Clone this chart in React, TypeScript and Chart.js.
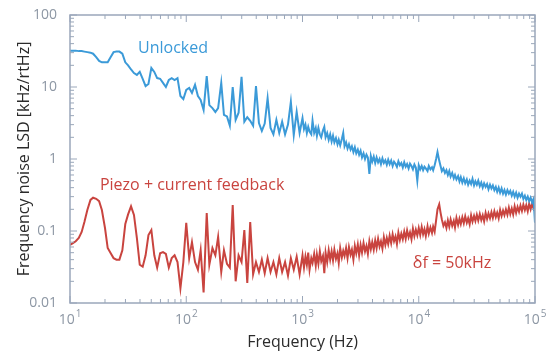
import React, { useEffect, useRef } from 'react';
import { Chart, registerables } from 'chart.js';

Chart.register(...registerables);

// Frequency grid (Hz): 40 points/decade below 1 kHz, 80 points/decade above
const freqHz = [
  10, 10.6, 11.2, 11.9, 12.6, 13.3, 14.1, 15.0, 15.8, 16.8, 17.8, 18.8, 20.0, 21.1, 22.4, 23.7, 25.1, 26.6, 28.2, 29.9,
  31.6, 33.5, 35.5, 37.6, 39.8, 42.2, 44.7, 47.3, 50.1, 53.1, 56.2, 59.6, 63.1, 66.8, 70.8, 75.0, 79.4, 84.1, 89.1, 94.4,
  100, 106, 112, 119, 126, 133, 141, 150, 158, 168, 178, 188, 200, 211, 224, 237, 251, 266, 282, 299,
  316, 335, 355, 376, 398, 422, 447, 473, 501, 531, 562, 596, 631, 668, 708, 750, 794, 841, 891, 944,
  1000, 1030, 1060, 1090, 1120, 1150, 1190, 1220, 1260, 1300, 1330, 1370, 1410, 1450, 1500, 1540, 1580, 1630, 1680, 1730,
  1780, 1830, 1880, 1940, 2000, 2050, 2110, 2180, 2240, 2300, 2370, 2440, 2510, 2590, 2660, 2740, 2820, 2900, 2990, 3070,
  3160, 3250, 3350, 3450, 3550, 3650, 3760, 3870, 3980, 4100, 4220, 4340, 4470, 4600, 4730, 4870, 5010, 5160, 5310, 5460,
  5620, 5790, 5960, 6130, 6310, 6490, 6680, 6880, 7080, 7290, 7500, 7720, 7940, 8180, 8410, 8660, 8910, 9170, 9440, 9720,
  10000, 10300, 10600, 10900, 11200, 11500, 11900, 12200, 12600, 13000, 13300, 13700, 14100, 14500, 15000, 15400, 15800, 16300, 16800, 17300,
  17800, 18300, 18800, 19400, 20000, 20500, 21100, 21800, 22400, 23000, 23700, 24400, 25100, 25900, 26600, 27400, 28200, 29000, 29900, 30700,
  31600, 32500, 33500, 34500, 35500, 36500, 37600, 38700, 39800, 41000, 42200, 43400, 44700, 46000, 47300, 48700, 50100, 51600, 53100, 54600,
  56200, 57900, 59600, 61300, 63100, 64900, 66800, 68800, 70800, 72900, 75000, 77200, 79400, 81800, 84100, 86600, 89100, 91700, 94400, 97200,
  100000,
];

// Unlocked laser LSD (kHz/rtHz)
const unlockedLSD = [
  32, 32, 32, 31.5, 31.5, 31, 30.5, 30, 29, 26,
  23, 22, 22, 22, 26, 30.5, 31, 31, 29, 22,
  20, 17.5, 15.6, 14.7, 16.2, 13, 10.3, 11, 18.4, 16.2,
  13.3, 13, 11.4, 10, 12.5, 13.3, 12.5, 13.3, 7.5, 6.8,
  9.1, 9.7, 8.3, 10.7, 7.5, 6.6, 4.8, 14.2, 5.6, 5.1,
  4.5, 5.1, 11.4, 4.1, 3.9, 2.9, 10, 3.5, 4.4, 13.8,
  3.3, 3.8, 3.4, 2.9, 10.3, 3.16, 2.45, 3.1, 7.0, 2.7,
  2.2, 3.5, 2.3, 3.3, 2.2, 3.0, 6.2, 2.15, 4.5, 2.3,
  3.7, 2.6, 3.0, 2.3, 2.8, 2.4, 2.2, 3.4, 2.3, 2.7,
  2.1, 2.7, 2.2, 2.0, 2.5, 2.8, 2.0, 2.3, 1.85, 2.2,
  1.75, 2.1, 1.7, 1.95, 1.6, 1.85, 1.55, 1.9, 2.3, 1.5,
  1.7, 1.4, 1.6, 1.35, 1.5, 1.25, 1.45, 1.2, 1.35, 1.15,
  1.3, 1.05, 1.2, 1.0, 1.15, 1.05, 0.62, 1.1, 0.92, 1.08,
  0.88, 1.05, 0.9, 1.0, 0.85, 1.02, 0.88, 0.96, 0.83, 0.98,
  0.85, 0.95, 0.8, 0.92, 0.86, 0.78, 0.93, 0.82, 0.88, 0.76,
  0.9, 0.78, 0.85, 0.74, 0.86, 0.8, 0.72, 0.84, 0.76, 0.5,
  0.82, 0.72, 0.8, 0.7, 0.78, 0.74, 0.68, 0.8, 0.72, 0.77,
  0.7, 0.82, 1.0, 1.25, 0.95, 0.8, 0.68, 0.74, 0.64, 0.7,
  0.6, 0.68, 0.57, 0.64, 0.54, 0.6, 0.52, 0.58, 0.49, 0.56,
  0.47, 0.54, 0.46, 0.52, 0.44, 0.5, 0.45, 0.53, 0.43, 0.49,
  0.44, 0.5, 0.42, 0.47, 0.4, 0.46, 0.41, 0.45, 0.38, 0.44,
  0.39, 0.43, 0.37, 0.41, 0.35, 0.4, 0.34, 0.39, 0.33, 0.37,
  0.32, 0.37, 0.33, 0.36, 0.31, 0.35, 0.3, 0.34, 0.29, 0.33,
  0.3, 0.33, 0.28, 0.31, 0.27, 0.3, 0.26, 0.29, 0.25, 0.28,
  0.13,
];

// Piezo + current feedback LSD (kHz/rtHz)
const feedbackLSD = [
  0.064, 0.068, 0.072, 0.08, 0.097, 0.133, 0.196, 0.27, 0.29, 0.28,
  0.26, 0.196, 0.11, 0.058, 0.049, 0.042, 0.04, 0.04, 0.054, 0.125,
  0.17, 0.22, 0.167, 0.08, 0.034, 0.032, 0.046, 0.088, 0.103, 0.046,
  0.031, 0.049, 0.051, 0.048, 0.031, 0.042, 0.046, 0.037, 0.016, 0.037,
  0.13, 0.042, 0.07, 0.037, 0.029, 0.054, 0.014, 0.178, 0.034, 0.058,
  0.046, 0.083, 0.027, 0.054, 0.035, 0.031, 0.23, 0.02, 0.046, 0.037,
  0.103, 0.019, 0.133, 0.025, 0.037, 0.027, 0.04, 0.026, 0.042, 0.027,
  0.037, 0.025, 0.042, 0.027, 0.037, 0.024, 0.042, 0.029, 0.044, 0.025,
  0.046, 0.031, 0.044, 0.034, 0.05, 0.029, 0.042, 0.036, 0.048, 0.033,
  0.047, 0.035, 0.052, 0.038, 0.045, 0.026, 0.05, 0.037, 0.054, 0.04,
  0.052, 0.039, 0.055, 0.041, 0.049, 0.036, 0.058, 0.043, 0.053, 0.045,
  0.058, 0.042, 0.06, 0.047, 0.055, 0.04, 0.062, 0.049, 0.065, 0.046,
  0.064, 0.05, 0.068, 0.052, 0.062, 0.048, 0.072, 0.056, 0.07, 0.055,
  0.074, 0.058, 0.078, 0.061, 0.072, 0.057, 0.082, 0.064, 0.08, 0.066,
  0.086, 0.068, 0.09, 0.072, 0.084, 0.066, 0.095, 0.075, 0.092, 0.077,
  0.098, 0.078, 0.102, 0.082, 0.096, 0.077, 0.108, 0.085, 0.104, 0.087,
  0.11, 0.088, 0.114, 0.09, 0.106, 0.085, 0.116, 0.092, 0.112, 0.094,
  0.115, 0.098, 0.14, 0.2, 0.235, 0.18, 0.145, 0.118, 0.132, 0.11,
  0.14, 0.115, 0.145, 0.118, 0.138, 0.112, 0.152, 0.122, 0.148, 0.125,
  0.155, 0.128, 0.16, 0.13, 0.15, 0.124, 0.165, 0.135, 0.162, 0.138,
  0.168, 0.14, 0.172, 0.142, 0.165, 0.136, 0.178, 0.147, 0.175, 0.15,
  0.182, 0.152, 0.188, 0.156, 0.18, 0.15, 0.196, 0.162, 0.192, 0.166,
  0.2, 0.168, 0.21, 0.172, 0.205, 0.17, 0.22, 0.178, 0.215, 0.185,
  0.225, 0.19, 0.232, 0.195, 0.228, 0.188, 0.24, 0.2, 0.238, 0.205,
  0.225,
];

const yTickValues = [0.01, 0.1, 1, 10, 100];
const yTickLabels = ['0.01', '0.1', '1', '10', '100'];
const xTickExponents = [1, 2, 3, 4, 5];

const annotationTexts = ['Unlocked', 'Piezo + current feedback', 'δf = 50kHz'];
const annotationFreq = [38.5, 18.1, 8900];
const annotationLSD = [34.8, 0.435, 0.036];

const BLUE = '#3b9ad8';
const RED = '#c9443f';
const AXIS = '#9aa7ba';
const TICK_TEXT = '#8d97a4';
const TITLE_TEXT = '#2b2b2b';
const FONT = "'Open Sans', 'Noto Sans', sans-serif";

const annotationColors = [BLUE, RED, RED];

const framePlugin = {
  id: 'frameTicks',
  afterDraw(chart: any) {
    const { ctx, chartArea, scales } = chart;
    const { left, right, top, bottom } = chartArea;
    const x = scales.x;
    const y = scales.y;
    ctx.save();
    ctx.strokeStyle = AXIS;
    ctx.lineWidth = 1.5;
    ctx.strokeRect(left, top, right - left, bottom - top);
    ctx.lineWidth = 1;
    const seg = (x1: number, y1: number, x2: number, y2: number) => {
      ctx.beginPath();
      ctx.moveTo(x1, y1);
      ctx.lineTo(x2, y2);
      ctx.stroke();
    };
    for (let e = 1; e <= 5; e++) {
      for (let m = 1; m <= 9; m++) {
        const v = m * Math.pow(10, e);
        if (v > 1e5) break;
        const px = x.getPixelForValue(v);
        const len = m === 1 ? 7 : 4;
        seg(px, bottom, px, bottom - len);
        seg(px, top, px, top + len);
      }
    }
    for (let e = -2; e <= 2; e++) {
      for (let m = 1; m <= 9; m++) {
        const v = m * Math.pow(10, e);
        if (v > 100.0001) break;
        const py = y.getPixelForValue(v);
        const len = m === 1 ? 7 : 4;
        seg(left, py, left + len, py);
        seg(right, py, right - len, py);
      }
    }
    ctx.fillStyle = TICK_TEXT;
    ctx.textBaseline = 'alphabetic';
    ctx.textAlign = 'left';
    xTickExponents.forEach((ex) => {
      const px = x.getPixelForValue(Math.pow(10, ex));
      ctx.font = `14px ${FONT}`;
      const wBase = ctx.measureText('10').width;
      ctx.font = `10px ${FONT}`;
      const wExp = ctx.measureText(String(ex)).width;
      const start = px - (wBase + wExp + 1) / 2;
      ctx.font = `14px ${FONT}`;
      ctx.fillText('10', start, bottom + 21);
      ctx.font = `10px ${FONT}`;
      ctx.fillText(String(ex), start + wBase + 1, bottom + 14);
    });
    ctx.textBaseline = 'middle';
    ctx.font = `16px ${FONT}`;
    annotationTexts.forEach((t, i) => {
      ctx.fillStyle = annotationColors[i];
      ctx.fillText(t, x.getPixelForValue(annotationFreq[i]), y.getPixelForValue(annotationLSD[i]));
    });
    ctx.restore();
  },
};

export default function App() {
  const canvasRef = useRef<HTMLCanvasElement | null>(null);

  useEffect(() => {
    if (!canvasRef.current) return;
    const chart = new Chart(canvasRef.current, {
      type: 'line',
      data: {
        datasets: [
          {
            label: 'Unlocked',
            data: freqHz.map((f, i) => ({ x: f, y: unlockedLSD[i] })),
            borderColor: BLUE,
            borderWidth: 2,
            pointRadius: 0,
            tension: 0,
            fill: false,
          },
          {
            label: 'Piezo + current feedback',
            data: freqHz.map((f, i) => ({ x: f, y: feedbackLSD[i] })),
            borderColor: RED,
            borderWidth: 2,
            pointRadius: 0,
            tension: 0,
            fill: false,
          },
        ],
      },
      options: {
        animation: false,
        responsive: false,
        maintainAspectRatio: false,
        parsing: false as any,
        layout: { padding: { top: 15, right: 25, left: 0, bottom: 0 } },
        plugins: {
          legend: { display: false },
          tooltip: { enabled: false },
        },
        scales: {
          x: {
            type: 'logarithmic',
            min: 10,
            max: 100000,
            grid: { display: false },
            border: { display: false },
            ticks: { display: false },
            title: {
              display: true,
              text: 'Frequency (Hz)',
              color: TITLE_TEXT,
              font: { family: FONT, size: 16 },
              padding: { top: 0, bottom: 4 },
            },
            afterFit: (s: any) => {
              s.height = 53;
            },
          },
          y: {
            type: 'logarithmic',
            min: 0.01,
            max: 100,
            grid: { display: false },
            border: { display: false },
            afterBuildTicks: (s: any) => {
              s.ticks = yTickValues.map((v) => ({ value: v }));
            },
            ticks: {
              autoSkip: false,
              padding: 5,
              color: TICK_TEXT,
              font: { family: FONT, size: 14 },
              callback: (v: any) => {
                const idx = yTickValues.findIndex((t) => Math.abs(Math.log10(t) - Math.log10(Number(v))) < 1e-6);
                return idx >= 0 ? yTickLabels[idx] : '';
              },
            },
            title: {
              display: true,
              text: 'Frequency noise LSD [kHz/rtHz]',
              color: TITLE_TEXT,
              font: { family: FONT, size: 16 },
              padding: { top: 15, bottom: 0 },
            },
            afterFit: (s: any) => {
              s.width = 70;
            },
          },
        },
      },
      plugins: [framePlugin],
    });
    return () => chart.destroy();
  }, []);

  return (
    <div style={{ position: 'fixed', left: 0, top: 0, width: 560, height: 356, background: '#ffffff' }}>
      <canvas ref={canvasRef} width={560} height={356} style={{ width: 560, height: 356 }} />
    </div>
  );
}
